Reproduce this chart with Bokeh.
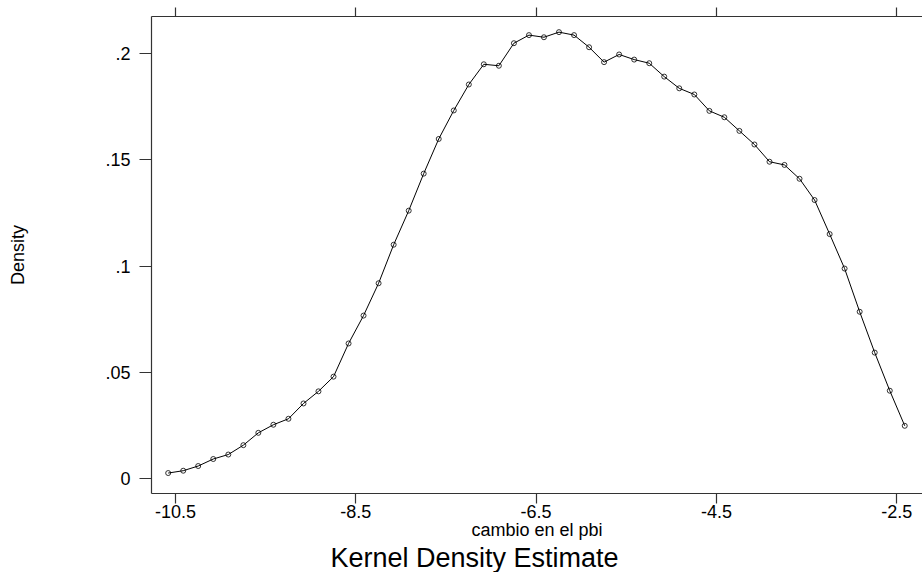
from bokeh.plotting import figure
from bokeh.models import Range1d, FixedTicker, LinearAxis, Title
from bokeh.embed import file_html
from bokeh.resources import INLINE

# evaluation points of the kernel density estimate
x_grid = [-10.581, -10.414, -10.248, -10.081, -9.914, -9.747, -9.581, -9.414, -9.247, -9.080,
          -8.914, -8.747, -8.580, -8.414, -8.247, -8.080, -7.913, -7.747, -7.580, -7.413,
          -7.246, -7.080, -6.913, -6.746, -6.579, -6.413, -6.246, -6.079, -5.912, -5.746,
          -5.579, -5.412, -5.245, -5.079, -4.912, -4.745, -4.578, -4.412, -4.245, -4.078,
          -3.911, -3.745, -3.578, -3.411, -3.244, -3.078, -2.911, -2.744, -2.577, -2.411]
# estimated density
density = [0.0027, 0.0038, 0.0060, 0.0093, 0.0114, 0.0158, 0.0216, 0.0254, 0.0282, 0.0354,
           0.0411, 0.0480, 0.0636, 0.0767, 0.0919, 0.1100, 0.1260, 0.1434, 0.1597, 0.1731,
           0.1853, 0.1948, 0.1941, 0.2047, 0.2085, 0.2075, 0.2099, 0.2085, 0.2028, 0.1958,
           0.1994, 0.1970, 0.1953, 0.1890, 0.1835, 0.1806, 0.1729, 0.1699, 0.1635, 0.1571,
           0.1490, 0.1475, 0.1410, 0.1310, 0.1150, 0.0988, 0.0785, 0.0593, 0.0414, 0.0249]

x_ticks = [-10.5, -8.5, -6.5, -4.5, -2.5]
x_tick_labels = ["-10.5", "-8.5", "-6.5", "-4.5", "-2.5"]
y_ticks = [0, 0.05, 0.1, 0.15, 0.2]
y_tick_labels = ["0", ".05", ".1", ".15", ".2"]

x_title = "cambio en el pbi"
y_title = "Density"
main_title = "Kernel Density Estimate"

FONT = "Liberation Sans"
AX = "#333333"

p = figure(width=922, height=572, output_backend="svg", toolbar_location=None,
           title=None,
           x_range=Range1d(-10.766, -2.214), y_range=Range1d(-0.00691, 0.21725),
           min_border_left=151, min_border_right=0, min_border_top=16,
           min_border_bottom=79)
p.background_fill_color = "white"
p.border_fill_color = "white"
p.outline_line_color = None
p.xgrid.grid_line_color = None
p.ygrid.grid_line_color = None

def style(ax):
    ax.axis_line_color = AX
    ax.axis_line_width = 1.2
    ax.major_tick_line_color = AX
    ax.major_tick_line_width = 1.2
    ax.major_tick_in = 0
    ax.minor_tick_line_color = None
    ax.major_label_text_font = FONT
    ax.major_label_text_color = "black"
    ax.axis_label_text_font = FONT
    ax.axis_label_text_font_style = "normal"
    ax.axis_label_text_color = "black"

xa = p.xaxis[0]
style(xa)
xa.ticker = FixedTicker(ticks=x_ticks)
xa.major_label_overrides = dict(zip(x_ticks, x_tick_labels))
xa.major_tick_out = 10
xa.major_label_standoff = 1
xa.major_label_text_font_size = "18px"
xa.axis_label = x_title
xa.axis_label_text_font_size = "18px"
xa.axis_label_standoff = -1

ya = p.yaxis[0]
style(ya)
ya.ticker = FixedTicker(ticks=y_ticks)
ya.major_label_overrides = dict(zip(y_ticks, y_tick_labels))
ya.major_tick_out = 12
ya.major_label_standoff = 9
ya.major_label_text_font_size = "18px"
ya.axis_label = y_title
ya.axis_label_text_font_size = "18px"
ya.axis_label_standoff = 74

top = LinearAxis(ticker=FixedTicker(ticks=x_ticks))
style(top)
top.major_tick_out = 9
top.major_label_text_color = None
top.major_label_standoff = 0
p.add_layout(top, "above")

title = Title(text=main_title, align="left", offset=179, text_font=FONT,
              text_font_size="27px", text_font_style="normal", text_color="black")
try:
    title.standoff = -4
except Exception:
    title.standoff = 0
p.add_layout(title, "below")

p.line(x_grid, density, line_color="black", line_width=1)
p.scatter(x_grid, density, marker="circle", size=5, line_color="black",
          fill_color=None, line_width=0.8)

open("out.html", "w").write(file_html(p, INLINE))
